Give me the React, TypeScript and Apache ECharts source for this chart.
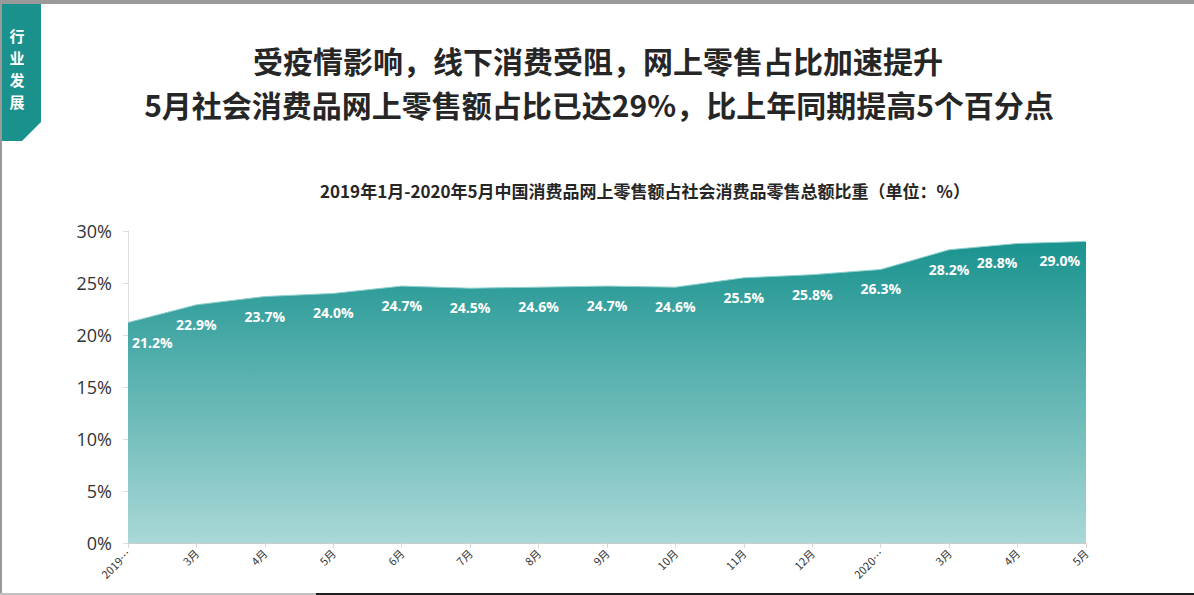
import React, { useEffect, useRef } from "react";
import * as echarts from "echarts";

const categories = ["2019年1月", "3月", "4月", "5月", "6月", "7月", "8月", "9月", "10月", "11月", "12月", "2020年1月", "3月", "4月", "5月"];
const shareValues = [21.2, 22.9, 23.7, 24.0, 24.7, 24.5, 24.6, 24.7, 24.6, 25.5, 25.8, 26.3, 28.2, 28.8, 29.0];
const titleLine1 = "受疫情影响，线下消费受阻，网上零售占比加速提升";
const titleLine2 = "5月社会消费品网上零售额占比已达29%，比上年同期提高5个百分点";
const subTitle = "2019年1月-2020年5月中国消费品网上零售额占社会消费品零售总额比重（单位：%）";
const bannerChars = ["行", "业", "发", "展"];

const FONT = "'Open Sans', 'Noto Sans CJK SC', sans-serif";
const CJK = "'Noto Sans CJK SC', sans-serif";

const GRID_LEFT = 128;
const GRID_RIGHT_X = 1086;

export default function App() {
  const ref = useRef<HTMLDivElement>(null);
  useEffect(() => {
    document.body.style.margin = "0";
    const chart = echarts.init(ref.current!, null, { renderer: "svg" });
    const lastIdx = shareValues.length - 1;
    chart.setOption({
      animation: false,
      backgroundColor: "#ffffff",
      textStyle: { fontFamily: FONT },
      graphic: [
        { type: "rect", shape: { x: 0, y: 0, width: 1194, height: 4 }, style: { fill: "#9a9a9a" } },
        { type: "rect", shape: { x: 0, y: 0, width: 2, height: 595 }, style: { fill: "#9a9a9a" } },
        { type: "rect", shape: { x: 0, y: 593, width: 316, height: 2 }, style: { fill: "#c0c0c0" } },
        { type: "rect", shape: { x: 316, y: 593, width: 878, height: 2 }, style: { fill: "#1e1e1e" } },
        {
          type: "polygon",
          shape: { points: [[2, 4], [41, 4], [41, 122], [22, 141], [2, 141]] },
          style: { fill: "#1a918d" },
        },
        ...bannerChars.map((c, i) => ({
          type: "text",
          x: 17,
          y: 35 + i * 22,
          style: { text: c, fill: "#ffffff", font: `bold 15px ${CJK}`, align: "center", verticalAlign: "middle" },
        })),
        {
          type: "text", x: 598, y: 60,
          style: { text: titleLine1, fill: "#262626", font: `bold 30px ${CJK}`, align: "center", verticalAlign: "middle" },
        },
        {
          type: "text", x: 599, y: 104,
          style: { text: titleLine2, fill: "#262626", font: `bold 30px ${CJK}`, align: "center", verticalAlign: "middle" },
        },
        {
          type: "text", x: 645, y: 190,
          style: { text: subTitle, fill: "#262626", font: `bold 17px ${CJK}`, align: "center", verticalAlign: "middle" },
        },
      ],
      grid: { left: GRID_LEFT, right: 1194 - GRID_RIGHT_X, top: 231, bottom: 52, containLabel: false },
      xAxis: {
        type: "category",
        data: categories,
        boundaryGap: false,
        axisLine: { lineStyle: { color: "#cccccc" } },
        axisTick: { alignWithLabel: true, lineStyle: { color: "#d9d9d9" }, length: 5 },
        axisLabel: {
          rotate: 45,
          fontSize: 11,
          color: "#333333",
          interval: 0,
          fontFamily: CJK,
          formatter: (v: string) => (v.length > 4 && v.startsWith("20") ? v.slice(0, 4) + "…" : v),
        },
      },
      yAxis: {
        type: "value",
        min: 0,
        max: 30,
        interval: 5,
        axisLine: { show: true, lineStyle: { color: "#dddddd" } },
        axisTick: { show: true, length: 5, lineStyle: { color: "#dddddd" } },
        splitLine: { show: false },
        axisLabel: { formatter: "{value}%", fontSize: 18, color: "#333333", margin: 16 },
      },
      series: [
        {
          type: "line",
          data: shareValues,
          symbol: "circle",
          symbolSize: 1,
          showSymbol: true,
          itemStyle: { color: "rgba(0,0,0,0)" },
          lineStyle: { width: 1, color: "#8fcfcc" },
          areaStyle: {
            opacity: 1,
            color: new echarts.graphic.LinearGradient(0, 0, 0, 1, [
              { offset: 0, color: "#1a938f" },
              { offset: 1, color: "#a9d8d7" },
            ]),
          },
          label: {
            show: true,
            position: "bottom",
            distance: 12,
            color: "#ffffff",
            fontWeight: "bold",
            fontSize: 14,
            formatter: (p: any) => p.value.toFixed(1) + "%",
          },
          labelLayout: (params: any) => {
            const r = params.labelRect;
            const rightLimit = GRID_RIGHT_X - 6;
            if (r.x < GRID_LEFT + 3) return { x: GRID_LEFT + 4, align: "left" };
            if (params.dataIndex === lastIdx) return { x: rightLimit, align: "right" };
            const nextLimit = rightLimit - r.width - 22;
            if (r.x + r.width > nextLimit) return { x: nextLimit, align: "right" };
            return {};
          },
        },
      ],
    });
    return () => chart.dispose();
  }, []);
  return <div ref={ref} style={{ width: 1194, height: 595 }} />;
}
